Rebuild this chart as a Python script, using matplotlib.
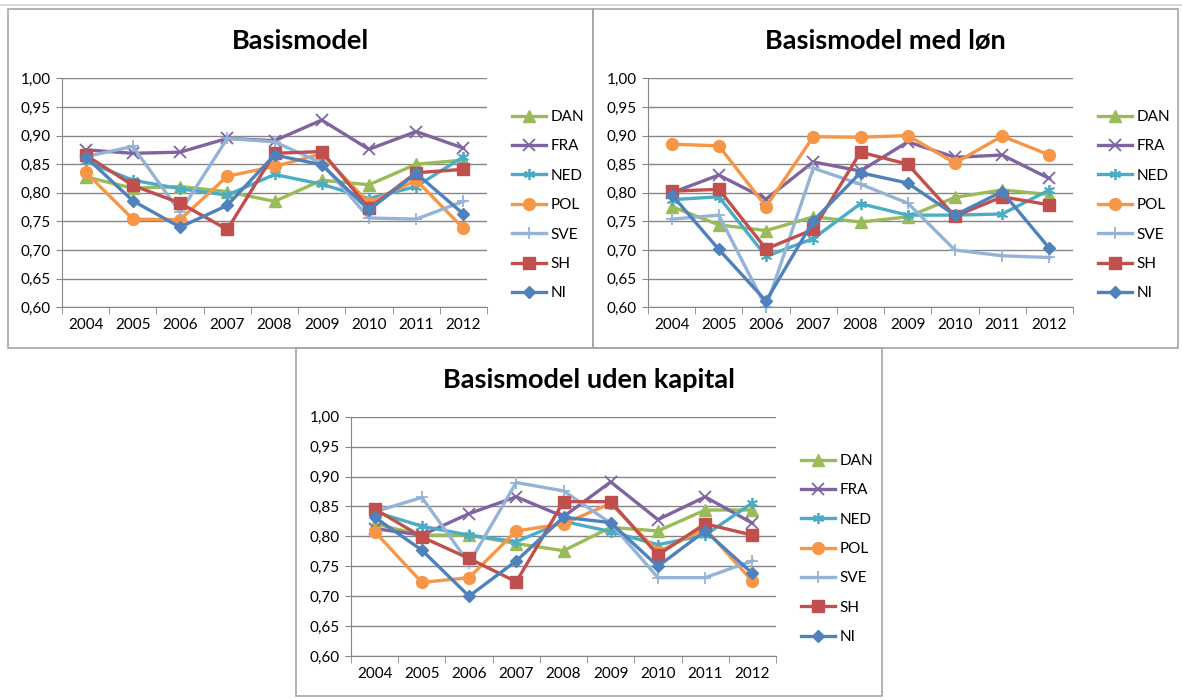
import numpy as np
import matplotlib
matplotlib.use('Agg')
import matplotlib.pyplot as plt
from matplotlib.patches import Rectangle
from matplotlib.lines import Line2D

plt.rcParams['font.family'] = ['Lato', 'DejaVu Sans']

years = ['2004', '2005', '2006', '2007', '2008', '2009', '2010', '2011', '2012']
series_names = ['DAN', 'FRA', 'NED', 'POL', 'SVE', 'SH', 'NI']

# Basismodel
basis_dan = [0.828, 0.808, 0.811, 0.802, 0.785, 0.822, 0.814, 0.850, 0.857]
basis_fra = [0.875, 0.869, 0.871, 0.895, 0.891, 0.927, 0.876, 0.907, 0.878]
basis_ned = [0.855, 0.822, 0.807, 0.796, 0.832, 0.815, 0.790, 0.811, 0.863]
basis_pol = [0.836, 0.754, 0.753, 0.829, 0.846, 0.868, 0.782, 0.822, 0.738]
basis_sve = [0.863, 0.881, 0.766, 0.895, 0.889, 0.852, 0.756, 0.754, 0.785]
basis_sh = [0.866, 0.813, 0.782, 0.736, 0.869, 0.872, 0.773, 0.835, 0.841]
basis_ni = [0.863, 0.786, 0.740, 0.778, 0.866, 0.849, 0.770, 0.834, 0.763]

# Basismodel med løn
loen_dan = [0.776, 0.744, 0.734, 0.758, 0.749, 0.758, 0.792, 0.805, 0.797]
loen_fra = [0.800, 0.831, 0.789, 0.854, 0.838, 0.889, 0.862, 0.866, 0.825]
loen_ned = [0.788, 0.793, 0.689, 0.720, 0.781, 0.761, 0.761, 0.763, 0.805]
loen_pol = [0.885, 0.882, 0.776, 0.898, 0.897, 0.900, 0.852, 0.899, 0.866]
loen_sve = [0.754, 0.761, 0.600, 0.843, 0.815, 0.782, 0.700, 0.690, 0.687]
loen_sh = [0.803, 0.806, 0.702, 0.736, 0.871, 0.850, 0.759, 0.793, 0.779]
loen_ni = [0.797, 0.701, 0.611, 0.751, 0.835, 0.817, 0.761, 0.802, 0.703]

# Basismodel uden kapital
kap_dan = [0.821, 0.802, 0.802, 0.788, 0.776, 0.815, 0.809, 0.844, 0.844]
kap_fra = [0.813, 0.802, 0.838, 0.866, 0.833, 0.891, 0.828, 0.866, 0.822]
kap_ned = [0.841, 0.817, 0.802, 0.791, 0.825, 0.808, 0.786, 0.802, 0.856]
kap_pol = [0.808, 0.723, 0.731, 0.809, 0.821, 0.855, 0.774, 0.813, 0.725]
kap_sve = [0.841, 0.865, 0.755, 0.890, 0.876, 0.822, 0.731, 0.731, 0.759]
kap_sh = [0.846, 0.799, 0.763, 0.724, 0.858, 0.858, 0.769, 0.821, 0.802]
kap_ni = [0.832, 0.777, 0.700, 0.759, 0.832, 0.823, 0.750, 0.809, 0.738]

colors = ['#9BBB59', '#8064A2', '#4BACC6', '#F79646', '#95B3D7', '#C0504D', '#4F81BD']
markers = ['^', 'x', (6, 2, 0), 'o', '+', 's', 'D']
msizes = [8, 8, 8, 8.5, 9, 9, 6.5]

W, H = 1182, 700
fig = plt.figure(figsize=(W / 100, H / 100), dpi=100)


def px_axes(x0, y0, x1, y1):
    return fig.add_axes([x0 / W, 1 - y1 / H, (x1 - x0) / W, (y1 - y0) / H])


def draw_chart(ax, title, tx, ty, data, lspace, ly):
    x = np.arange(len(years))
    for vals, name, c, m, ms in zip(data, series_names, colors, markers, msizes):
        mew = 1.3 if m in ('x', '+') or isinstance(m, tuple) else 1
        ax.plot(x, vals, color=c, lw=2.4, marker=m, ms=ms, mew=mew,
                mec=c, mfc=c, label=name, clip_on=False)
    ax.set_xlim(-0.5, 8.5)
    ax.set_ylim(0.6, 1.0)
    yt = np.arange(0.60, 1.001, 0.05)
    ax.set_yticks(yt)
    ax.set_yticklabels([('%.2f' % v).replace('.', ',') for v in yt], fontsize=11)
    ax.set_xticks(x)
    ax.set_xticklabels(years, fontsize=11)
    ax.set_xticks(np.arange(-0.5, 9), minor=True)
    ax.tick_params(axis='x', which='major', length=0, pad=8)
    ax.tick_params(axis='x', which='minor', length=5, color='#868686')
    ax.tick_params(axis='y', length=4, color='#868686', pad=4)
    ax.grid(axis='y', color='#868686', lw=1)
    ax.set_axisbelow(True)
    for s in ['top', 'right']:
        ax.spines[s].set_visible(False)
    for s in ['left', 'bottom']:
        ax.spines[s].set_color('#868686')
    ax.legend(loc='center left', bbox_to_anchor=(1.0588, ly), frameon=False,
              fontsize=11, handlelength=2.2, handletextpad=0.3,
              labelspacing=lspace, borderpad=0, borderaxespad=0)
    fig.text(tx / W, 1 - ty / H, title, ha='center', va='center',
             fontsize=19.5, fontweight='bold')


ax1 = px_axes(62, 78.3, 487, 307.3)
draw_chart(ax1, 'Basismodel', 300, 41,
           [basis_dan, basis_fra, basis_ned, basis_pol, basis_sve, basis_sh, basis_ni],
           1.01, 0.446)
ax2 = px_axes(648, 78.3, 1073, 307.3)
draw_chart(ax2, 'Basismodel med løn', 885, 41,
           [loen_dan, loen_fra, loen_ned, loen_pol, loen_sve, loen_sh, loen_ni],
           1.01, 0.446)
ax3 = px_axes(351, 416.7, 776, 656)
draw_chart(ax3, 'Basismodel uden kapital', 589, 380,
           [kap_dan, kap_fra, kap_ned, kap_pol, kap_sve, kap_sh, kap_ni],
           1.0, 0.447)

# chart frames
for (x0, y0, x1, y1) in [(8, 9, 593, 348), (593, 9, 1178, 348), (296, 348, 882, 696)]:
    fig.patches.append(Rectangle((x0 / W, 1 - y1 / H), (x1 - x0) / W, (y1 - y0) / H,
                                 transform=fig.transFigure, fill=False,
                                 edgecolor='#A6A6A6', lw=1.2, zorder=0))
fig.lines.append(Line2D([0, 1], [1 - 5 / H, 1 - 5 / H], transform=fig.transFigure,
                        color='#D9D9D9', lw=1.5))

fig.savefig('out.png', dpi=100)
